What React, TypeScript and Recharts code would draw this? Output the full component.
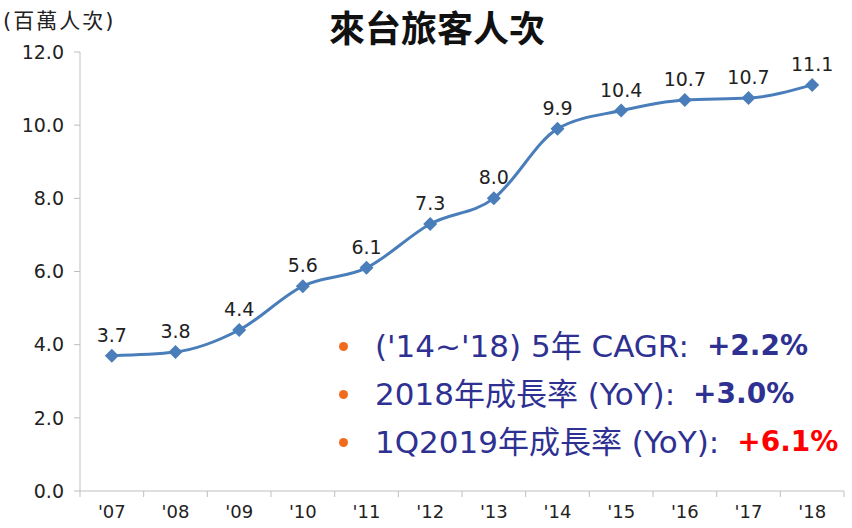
import { Line, LineChart, XAxis, YAxis, LabelList } from "recharts";

const years = ["'07", "'08", "'09", "'10", "'11", "'12", "'13", "'14", "'15", "'16", "'17", "'18"];
const visitors = [3.7, 3.8, 4.4, 5.6, 6.1, 7.3, 8.0, 9.9, 10.4, 10.69, 10.74, 11.1];
const yTicks = [0, 2, 4, 6, 8, 10, 12];

const notes = [
  { label: "('14~'18) 5年 CAGR:", value: "+2.2%", color: "#2E3192" },
  { label: "2018年成長率 (YoY):", value: "+3.0%", color: "#2E3192" },
  { label: "1Q2019年成長率 (YoY):", value: "+6.1%", color: "#FF0000" },
];

const chartData = years.map((year, i) => ({ year, value: visitors[i] }));

const font = "'DejaVu Sans', 'Noto Sans CJK TC', sans-serif";
const WIDTH = 852;
const HEIGHT = 528;
const margin = { top: 52, right: 8, bottom: 0, left: 0 };
const yAxisWidth = 80;
const band = (WIDTH - margin.left - margin.right - yAxisWidth) / years.length;

function XTick(props: any) {
  const { x, y, index } = props;
  return (
    <g>
      <line x1={x - band / 2} x2={x - band / 2} y1={y - 8} y2={y - 2} stroke="#bfbfbf" />
      {index === years.length - 1 && (
        <line x1={x + band / 2} x2={x + band / 2} y1={y - 8} y2={y - 2} stroke="#bfbfbf" />
      )}
      <text x={x} y={y + 19} textAnchor="middle" fontSize={18} fill="#222" fontFamily={font}>
        {years[index]}
      </text>
    </g>
  );
}

function Diamond(props: any) {
  const { cx, cy } = props;
  if (cx == null || cy == null) return null;
  const r = 7;
  return (
    <path
      d={`M${cx},${cy - r}L${cx + r},${cy}L${cx},${cy + r}L${cx - r},${cy}Z`}
      fill="#4A7EBB"
    />
  );
}

export default function App() {
  return (
    <div style={{ position: "absolute", left: 0, top: 0, width: WIDTH, height: HEIGHT, background: "#fff" }}>
      <div
        style={{
          position: "absolute",
          left: 3,
          top: 4,
          fontSize: 21,
          letterSpacing: 2,
          fontFamily: font,
          color: "#222",
        }}
      >
        (百萬人次)
      </div>
      <div
        style={{
          position: "absolute",
          left: 0,
          width: WIDTH,
          top: 1,
          textAlign: "center",
          fontSize: 36,
          lineHeight: "50px",
          fontWeight: "bold",
          fontFamily: "'Noto Sans CJK TC', sans-serif",
          color: "#111",
          paddingLeft: 22,
          boxSizing: "border-box",
        }}
      >
        來台旅客人次
      </div>
      <LineChart width={WIDTH} height={HEIGHT} data={chartData} margin={margin}>
        <YAxis
          domain={[0, 12]}
          ticks={yTicks}
          width={yAxisWidth}
          tickFormatter={(v: number) => v.toFixed(1)}
          tick={{ fontSize: 19, fill: "#222", fontFamily: font }}
          stroke="#bfbfbf"
          tickSize={6}
          tickMargin={10}
        />
        <XAxis
          dataKey="year"
          height={37}
          stroke="#bfbfbf"
          tickLine={false}
          tick={<XTick />}
          interval={0}
          padding={{ left: band / 2, right: band / 2 }}
        />
        <Line
          type="monotone"
          dataKey="value"
          stroke="#4A7EBB"
          strokeWidth={3}
          dot={<Diamond />}
          activeDot={false}
          isAnimationActive={false}
        >
          <LabelList
            dataKey="value"
            position="top"
            offset={14}
            formatter={(v: any) => Number(v).toFixed(1)}
            style={{ fontSize: 19, fill: "#222", fontFamily: font }}
          />
        </Line>
      </LineChart>
      {notes.map((n, i) => (
        <div
          key={i}
          style={{
            position: "absolute",
            left: 339,
            top: 326 + i * 48,
            fontFamily: font,
            fontSize: 31,
            color: "#2E3192",
            whiteSpace: "nowrap",
            lineHeight: "40px",
            display: "flex",
            alignItems: "center",
          }}
        >
          <span
            style={{
              display: "inline-block",
              width: 9,
              height: 9,
              borderRadius: "50%",
              background: "#F26B1D",
              marginRight: 27,
            }}
          />
          <span>{n.label}</span>
          <span style={{ fontWeight: "bold", fontSize: 28, color: n.color, marginLeft: 18 }}>{n.value}</span>
        </div>
      ))}
    </div>
  );
}
